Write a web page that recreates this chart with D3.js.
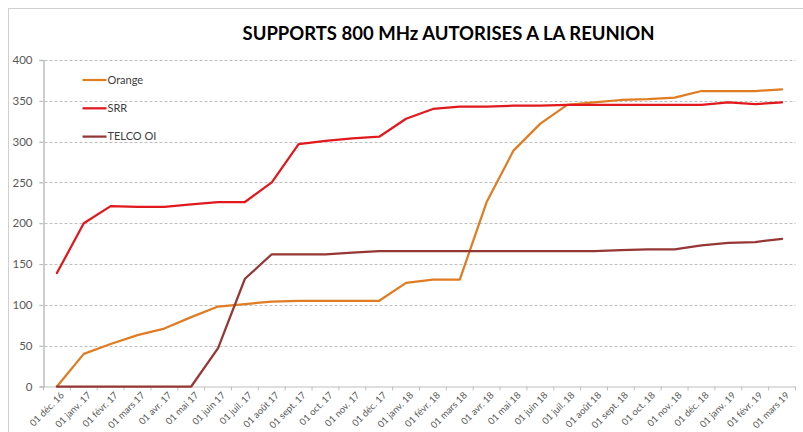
<!DOCTYPE html>
<html>
<head>
<meta charset="utf-8">
<script src="https://cdn.jsdelivr.net/npm/d3@7"></script>
<style>
  html, body { margin: 0; padding: 0; background: #fff; }
  svg { display: block; }
</style>
</head>
<body>
<script>
const months = ["01 déc. 16","01 janv. 17","01 févr. 17","01 mars 17","01 avr. 17","01 mai 17","01 juin 17","01 juil. 17","01 août 17","01 sept. 17","01 oct. 17","01 nov. 17","01 déc. 17","01 janv. 18","01 févr. 18","01 mars 18","01 avr. 18","01 mai 18","01 juin 18","01 juil. 18","01 août 18","01 sept. 18","01 oct. 18","01 nov. 18","01 déc. 18","01 janv. 19","01 févr. 19","01 mars 19"];
const orange = [0,40,52,63,71,85,98,101,104,105,105,105,105,127,131,131,226,289,322,345,348,351,352,354,362,362,362,364];
const srr    = [139,200,221,220,220,223,226,226,250,297,301,304,306,328,340,343,343,344,344,345,345,345,345,345,345,348,346,348];
const telco  = [0,0,0,0,0,0,47,132,162,162,162,164,166,166,166,166,166,166,166,166,166,167,168,168,173,176,177,181];
const seriesNames = ["Orange","SRR","TELCO OI"];
const seriesColors = ["#e07c22","#e0191f","#953735"];
const yTicks = [0,50,100,150,200,250,300,350,400];
const title = "SUPPORTS 800 MHz AUTORISES A LA REUNION";

(function () {
const W = 803, H = 432;
const svg = d3.select("body").append("svg").attr("width", W).attr("height", H);

svg.append("rect").attr("x", 8.5).attr("y", 8.5).attr("width", 900).attr("height", 600)
  .attr("fill", "#fff").attr("stroke", "#d0d0d0").attr("stroke-width", 1);

const mLeft = 43.5, mRight = 795.5, mTop = 60, mBottom = 386.5;
const x = d3.scaleBand().domain(months).range([mLeft, mRight]).padding(0);
const cx = d => x(d) + x.bandwidth() / 2;
const y = d3.scaleLinear().domain([0, 400]).range([mBottom, mTop]);

// title
svg.append("text").attr("x", 448.5).attr("y", 39.5).attr("text-anchor", "middle")
  .attr("font-family", "Lato, 'Open Sans', sans-serif").attr("font-weight", "bold")
  .attr("font-size", 18.5).attr("fill", "#000")
  .attr("textLength", 412).attr("lengthAdjust", "spacingAndGlyphs").text(title);

// gridlines
svg.append("g").selectAll("line").data(yTicks.filter(t => t > 0)).join("line")
  .attr("x1", mLeft - 4).attr("x2", mRight).attr("y1", d => Math.round(y(d)) + 0.5).attr("y2", d => Math.round(y(d)) + 0.5)
  .attr("stroke", "#bfbfbf").attr("stroke-dasharray", "3,2").attr("stroke-width", 1);

// y axis
const yAxis = svg.append("g").attr("transform", `translate(${mLeft},0)`)
  .call(d3.axisLeft(y).tickValues(yTicks).tickSize(4).tickPadding(7));
yAxis.select(".domain").attr("stroke", "#bfbfbf").attr("stroke-width", 1.5);
yAxis.selectAll(".tick line").attr("stroke", "#bfbfbf");
yAxis.selectAll("text").attr("font-family", "Lato, sans-serif").attr("font-size", 11.5).attr("fill", "#595959");

// x axis
const xAxis = svg.append("g").attr("transform", `translate(0,${mBottom})`)
  .call(d3.axisBottom(x).tickSize(0).tickFormat(""));
xAxis.select(".domain").attr("stroke", "#bfbfbf").attr("stroke-width", 1);
xAxis.selectAll(".tick").remove();
const bounds = months.map(m => x(m)).concat([mRight]);
svg.append("g").selectAll("line").data(bounds).join("line")
  .attr("x1", d => d).attr("x2", d => d).attr("y1", mBottom).attr("y2", mBottom + 4)
  .attr("stroke", "#bfbfbf");
svg.append("g").selectAll("text").data(months).join("text")
  .attr("transform", d => `translate(${cx(d) + 3},${mBottom + 4.5}) rotate(-45)`)
  .attr("text-anchor", "end").attr("dy", "0.72em")
  .attr("font-family", "Lato, sans-serif").attr("font-size", 9.5).attr("fill", "#595959")
  .text(d => d);

// lines
const allSeries = [orange, srr, telco];
const line = d3.line().x((d, i) => cx(months[i])).y(d => y(d));
svg.append("g").selectAll("path").data(allSeries).join("path")
  .attr("d", d => line(d)).attr("fill", "none")
  .attr("stroke", (d, i) => seriesColors[i]).attr("stroke-width", 2.25)
  .attr("stroke-linejoin", "round").attr("stroke-linecap", "round");

// legend
const lg = svg.append("g").selectAll("g").data(seriesNames).join("g")
  .attr("transform", (d, i) => `translate(82.5,${80 + i * 28.3})`);
lg.append("line").attr("x1", 0).attr("x2", 24).attr("stroke", (d, i) => seriesColors[i]).attr("stroke-width", 2.25);
lg.append("text").attr("x", 25).attr("dy", "0.35em").attr("font-family", "Lato, sans-serif")
  .attr("font-size", 11).attr("fill", "#404040").text(d => d);
})();
</script>
</body>
</html>
